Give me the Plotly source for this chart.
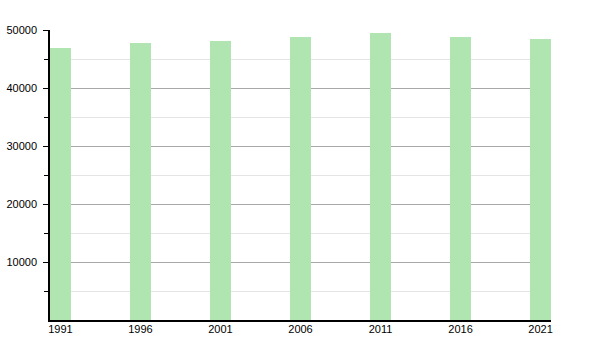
import plotly.graph_objects as go

years = [1991, 1996, 2001, 2006, 2011, 2016, 2021]
population = [46950, 47810, 48160, 48790, 49530, 48790, 48450]
ytick_vals = [10000, 20000, 30000, 40000, 50000]
ytick_text = ["10000", "20000", "30000", "40000", "50000"]

bar_w = 1.3

fig = go.Figure()
fig.add_trace(go.Bar(
    x=years, y=population, width=bar_w, offset=0,
    marker=dict(color="rgb(176,228,176)", line=dict(width=0)),
    hoverinfo="x+y",
))

fig.update_layout(
    width=600, height=350,
    margin=dict(l=50, r=49, t=30, b=30),
    paper_bgcolor="white", plot_bgcolor="white",
    showlegend=False,
    font=dict(family="Liberation Sans, Arial, sans-serif", size=11, color="black"),
    bargap=0,
)
fig.update_xaxes(
    range=[years[0], years[-1] + bar_w],
    tickmode="array",
    tickvals=[y + bar_w / 2 for y in years],
    ticktext=[str(y) for y in years],
    showgrid=False, zeroline=False,
    showline=True, linecolor="black", linewidth=1.5,
    ticks="", ticklabelstandoff=-2, automargin=False,
)
fig.update_yaxes(
    range=[0, 50000],
    tickmode="array",
    tickvals=ytick_vals, ticktext=ytick_text,
    showgrid=True, gridcolor="#a8a8a8", gridwidth=1,
    zeroline=False,
    showline=True, linecolor="black", linewidth=1.5,
    ticks="outside", ticklen=5, tickcolor="black", tickwidth=1,
    ticklabelstandoff=4, automargin=False,
    minor=dict(tickmode="linear", tick0=5000, dtick=10000,
               showgrid=True, gridcolor="#e4e4e4", gridwidth=1,
               ticks="outside", ticklen=4, tickcolor="black"),
)

fig.write_html("out.html")
